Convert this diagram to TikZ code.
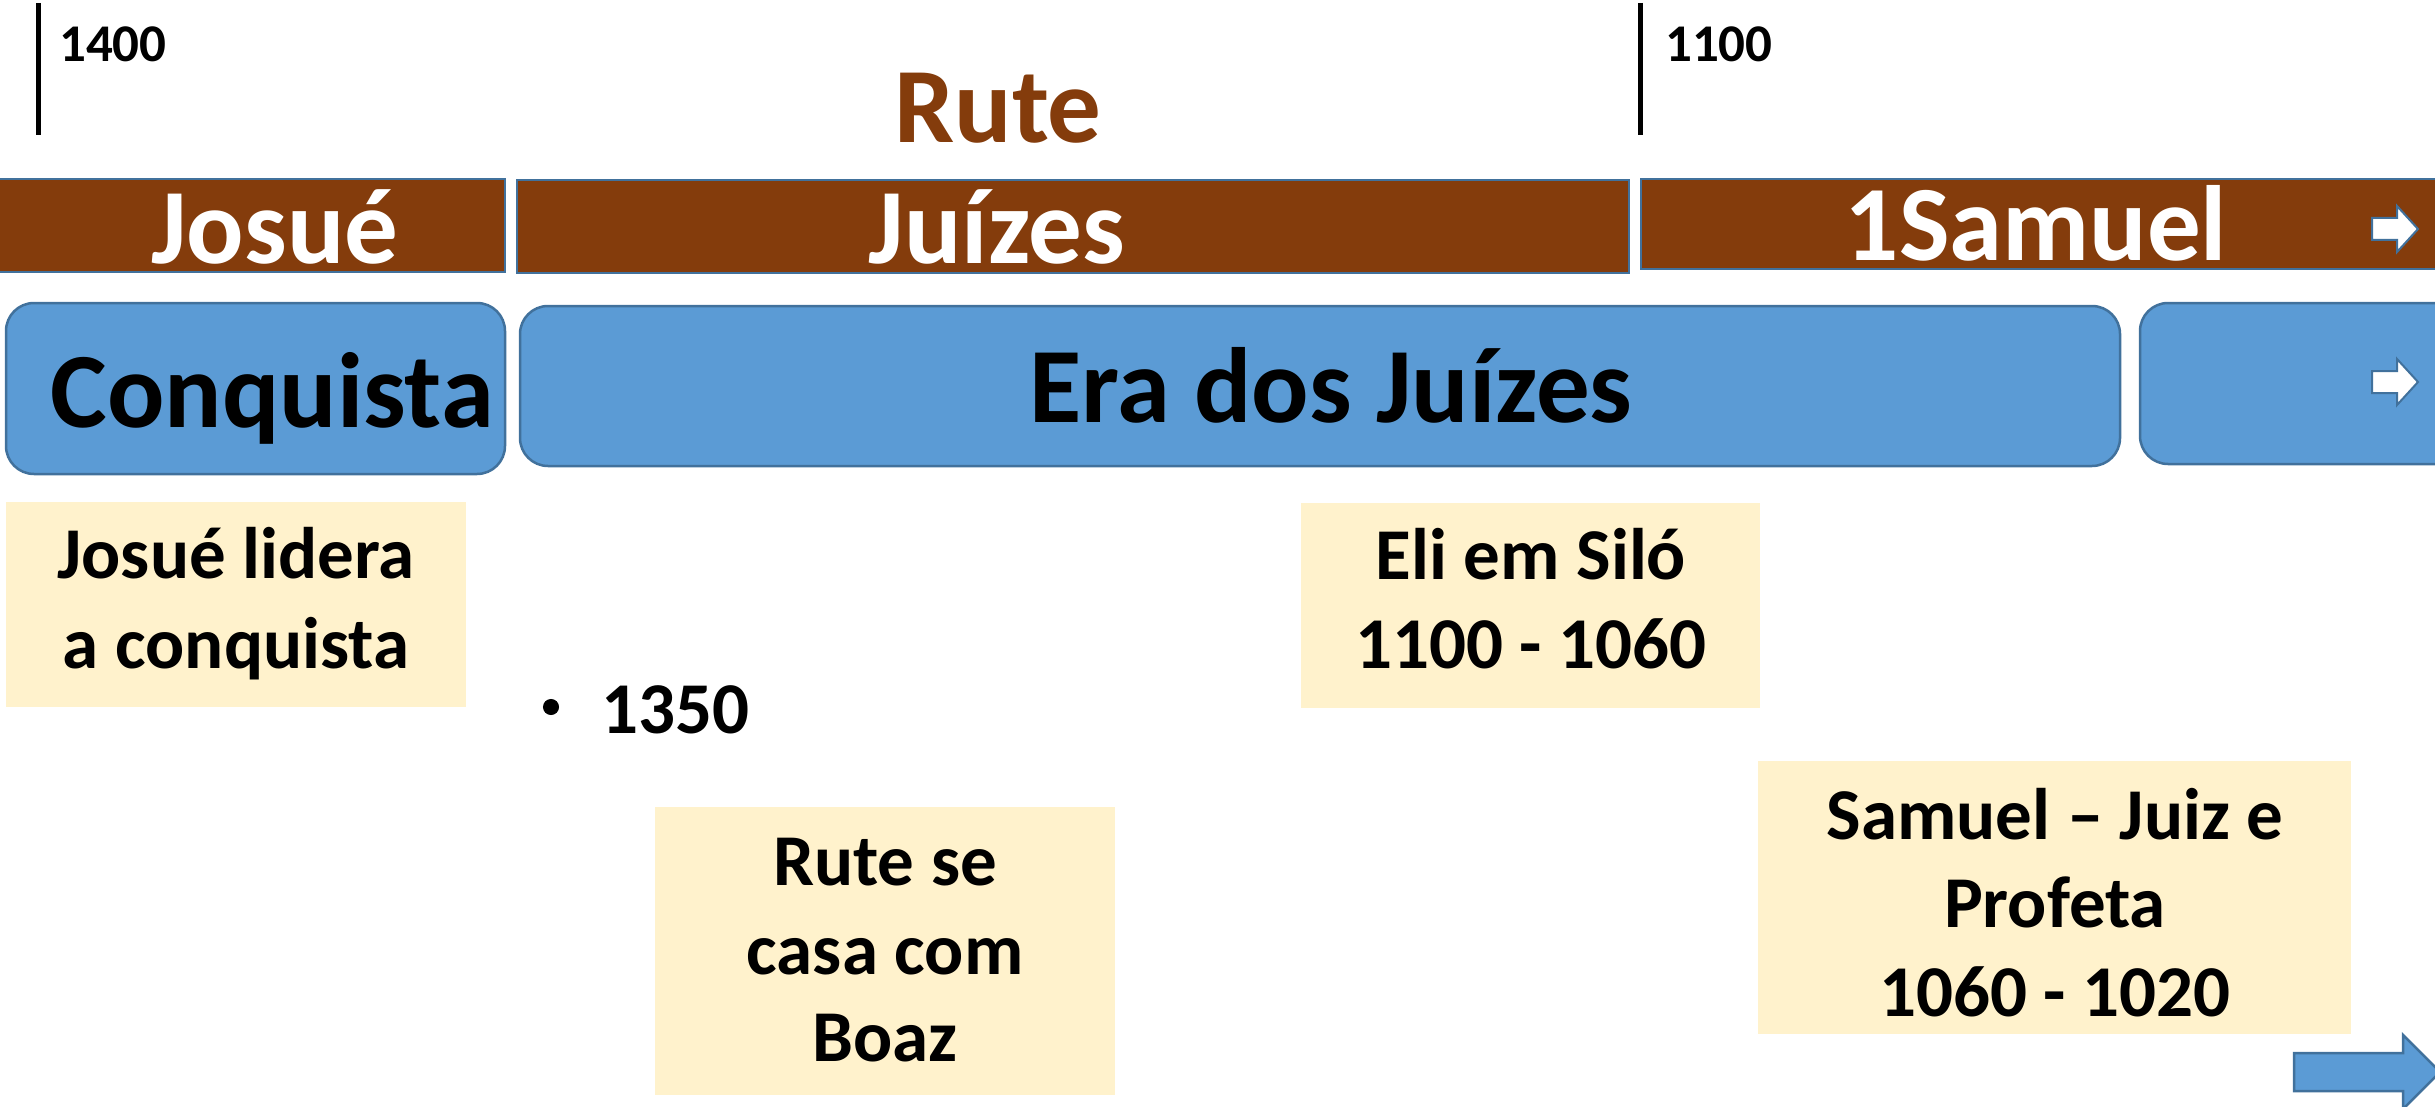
\documentclass[tikz,border=0pt]{standalone}
\usepackage{fontspec}
\setmainfont{Carlito}
\usetikzlibrary{fit}
\definecolor{brownc}{HTML}{843C0C}
\definecolor{bluec}{HTML}{5B9BD5}
\definecolor{bordc}{HTML}{41719C}
\definecolor{notec}{HTML}{FFF2CC}
\begin{document}
\begin{tikzpicture}[x=1pt,y=-1pt,
  brownbar/.style={draw=bordc, line width=2.5pt, fill=brownc, inner sep=0pt},
  bluebox/.style={draw=bordc, line width=2.5pt, fill=bluec, rounded corners=28pt, inner sep=0pt},
  notebox/.style={fill=notec, inner sep=0pt},
  bigtxt/.style={font=\fontsize{107}{110}\selectfont\bfseries, anchor=base, inner sep=0pt},
  midtxt/.style={font=\fontsize{73}{88}\selectfont\bfseries, anchor=base, inner sep=0pt},
  smalltxt/.style={font=\fontsize{53}{60}\selectfont\bfseries, anchor=base west, inner sep=0pt},
  tick/.style={line width=5pt, draw=black},
  bulletdot/.style={circle, fill=black, draw=black, line width=1pt, minimum size=15pt, inner sep=0pt},
  whitearrow/.style={draw=bordc, line width=2pt, fill=white, line join=miter},
  bluearrow/.style={draw=bordc, line width=2.5pt, fill=bluec, line join=miter}
]
\useasboundingbox (0,0) rectangle (2435,1107);

% ticks and years
\coordinate (t1a) at (38,3);
\coordinate (t1b) at (38,135);
\draw[tick] (t1a) -- (t1b);
\coordinate (t2a) at (1640,3);
\coordinate (t2b) at (1640,135);
\draw[tick] (t2a) -- (t2b);
\node[smalltxt] (y1400) at (59,62) {1400};
\node[smalltxt] (y1100) at (1665,62) {1100};

% title
\node[bigtxt, text=brownc] (trute) at (998,143) {Rute};

% brown bars
\node[brownbar, fit={(-4,179)(505,272)}] (barjosue) {};
\node[brownbar, fit={(517,180)(1629,273)}] (barjuizes) {};
\node[brownbar, fit={(1641,179)(2445,269)}] (barsamuel) {};
\node[bigtxt, text=white] (tjosue) at (275,264) {Josué};
\node[bigtxt, text=white] (tjuizes) at (997,264) {Juízes};
\node[bigtxt, text=white] (tsamuel) at (2036,261) {1Samuel};

% blue boxes
\node[bluebox, fit={(6,303)(505,474)}] (boxconq) {};
\node[bluebox, fit={(520,306)(2120,466)}] (boxera) {};
\node[bluebox, fit={(2140,303)(2470,464)}] (boxnext) {};
\node[bigtxt] (tconq) at (272,427) {Conquista};
\node[bigtxt] (tera) at (1331,422) {Era dos Juízes};

% small white arrows
\draw[whitearrow] (2372,218) -- (2397,218) -- (2397,206) -- (2418,229) -- (2397,252) -- (2397,240) -- (2372,240) -- cycle;
\draw[whitearrow] (2372,371) -- (2397,371) -- (2397,359) -- (2418,382) -- (2397,405) -- (2397,393) -- (2372,393) -- cycle;

% note boxes
\node[notebox, fit={(6,502)(466,707)}] (nlidera) {};
\node[midtxt] (nl1) at (236,578) {Josué lidera};
\node[midtxt] (nl2) at (236,668) {a conquista};

\node[notebox, fit={(1301,503)(1760,708)}] (neli) {};
\node[midtxt] (ne1) at (1531,579) {Eli em Siló};
\node[midtxt] (ne2) at (1531,668) {1100 - 1060};

\node[notebox, fit={(655,807)(1115,1095)}] (nrute) {};
\node[midtxt] (nr1) at (885,885) {Rute se};
\node[midtxt] (nr2) at (885,974) {casa com};
\node[midtxt] (nr3) at (885,1061) {Boaz};

\node[notebox, fit={(1758,761)(2351,1034)}] (nsam) {};
\node[midtxt] (ns1) at (2055,839) {Samuel – Juiz e};
\node[midtxt] (ns2) at (2055,927) {Profeta};
\node[midtxt] (ns3) at (2055,1016) {1060 - 1020};

% bullet 1350
\node[bulletdot] (bul) at (551,707) {};
\node[midtxt, anchor=base west] (y1350) at (601,733) {1350};

% big blue arrow
\draw[bluearrow] (2294,1053) -- (2403,1053) -- (2403,1035) -- (2440,1072) -- (2403,1109) -- (2403,1091) -- (2294,1091) -- cycle;
\end{tikzpicture}
\end{document}
